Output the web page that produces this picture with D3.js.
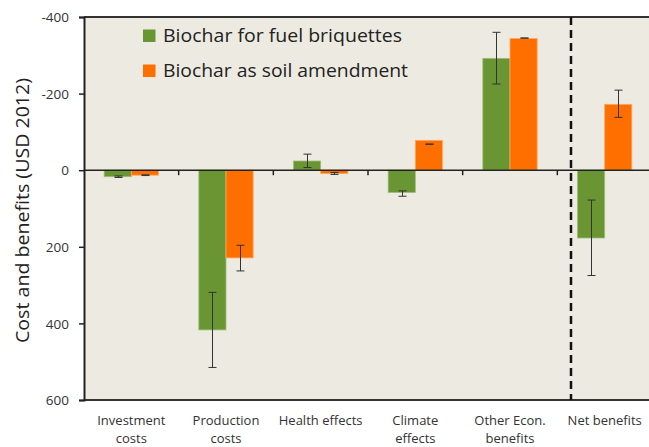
<!DOCTYPE html>
<html><head><meta charset="utf-8">
<script src="https://cdn.jsdelivr.net/npm/d3@7"></script>
<style>html,body{margin:0;padding:0;background:#fff;overflow:hidden}</style>
</head><body><svg id="c" width="649" height="447"></svg>
<script>
const categories = [["Investment","costs"],["Production","costs"],["Health effects"],["Climate","effects"],["Other Econ.","benefits"],["Net benefits"]];
const seriesNames = ["Biochar for fuel briquettes","Biochar as soil amendment"];
const fuelValues = [17, 417, -24, 58, -292, 177];
const fuelErrLow = [15, 319, -42, 54, -360, 78];
const fuelErrHigh = [19, 515, -7, 68, -225, 275];
const soilValues = [13, 229, 9, -78, -344, -172];
const soilErrLow = [12, 196, 6, -68, -345, -209];
const soilErrHigh = [14, 263, 11, -68, -345, -138];
const yTicks = [-400, -200, 0, 200, 400, 600];
const colors = ["#6a9533", "#ff6f00"];

(function(){
const svg = d3.select("#c");
const pL = 84, pT = 17, pB = 400, pR = 652;
const x0 = d3.scaleBand().domain(d3.range(categories.length)).range([pL, pR]).paddingInner(0.426).paddingOuter(0.213);
const x1 = d3.scaleBand().domain([0,1]).range([0, x0.bandwidth()]);
const y = d3.scaleLinear().domain([-400, 600]).range([pT, pB]);

svg.append("rect").attr("x", pL).attr("y", pT).attr("width", pR-pL).attr("height", pB-pT).attr("fill", "#edebe1");

const series = [
  {vals: fuelValues, lo: fuelErrLow, hi: fuelErrHigh},
  {vals: soilValues, lo: soilErrLow, hi: soilErrHigh}
];
series.forEach((s, si) => {
  const g = svg.append("g");
  g.selectAll("rect").data(s.vals).join("rect")
    .attr("x", (d,i) => x0(i) + x1(si))
    .attr("width", x1.bandwidth())
    .attr("y", d => y(Math.min(0,d)))
    .attr("height", d => Math.abs(y(d) - y(0)))
    .attr("fill", colors[si])
    .attr("stroke", si === 0 ? "#9fbb78" : "#ffa860").attr("stroke-width", 0.8);
});
series.forEach((s, si) => {
  const g = svg.append("g").attr("stroke", "#333").attr("stroke-width", 1);
  s.vals.forEach((v, i) => {
    const cx = Math.round(x0(i) + x1(si) + x1.bandwidth()/2) + 0.5;
    const a = y(s.lo[i]), b = y(s.hi[i]);
    g.append("line").attr("x1", cx).attr("x2", cx).attr("y1", a).attr("y2", b);
    [a, b].forEach(yy => g.append("line").attr("x1", cx-4).attr("x2", cx+4).attr("y1", yy).attr("y2", yy));
  });
});

// zero line with category ticks
svg.append("line").attr("x1", pL).attr("x2", pR).attr("y1", y(0)).attr("y2", y(0)).attr("stroke", "#222").attr("stroke-width", 1.5);
const bounds = d3.range(1, categories.length).map(i => x0.step()*i + pL);
svg.append("g").selectAll("line").data(bounds).join("line")
  .attr("x1", d => d).attr("x2", d => d).attr("y1", y(0)).attr("y2", y(0)+5)
  .attr("stroke", "#222").attr("stroke-width", 1.5);

// frame lines
svg.append("line").attr("x1", pL).attr("x2", pR).attr("y1", pT).attr("y2", pT).attr("stroke", "#333").attr("stroke-width", 2);
svg.append("line").attr("x1", pL).attr("x2", pR).attr("y1", pB).attr("y2", pB).attr("stroke", "#333").attr("stroke-width", 2);

// y axis
const yAxis = svg.append("g").attr("transform", `translate(${pL},0)`)
  .call(d3.axisLeft(y).tickValues(yTicks).tickSize(5).tickFormat(d => String(d)));
yAxis.select(".domain").attr("stroke", "#222").attr("stroke-width", 2);
yAxis.selectAll(".tick line").attr("stroke", "#222").attr("stroke-width", 1.5);
yAxis.selectAll("text").attr("font-family", "Open Sans, sans-serif").attr("font-size", 13.5).attr("fill", "#333").attr("x", -15).attr("dy", "0.35em");

svg.append("text").attr("transform", `translate(29,${(78+343)/2}) rotate(-90)`)
  .attr("text-anchor", "middle").attr("font-family", "Open Sans, sans-serif").attr("font-size", 17.5).attr("fill", "#222")
  .attr("textLength", 265).attr("lengthAdjust", "spacingAndGlyphs")
  .text("Cost and benefits (USD 2012)");

// dashed separator
const sepX = x0(5) - 6.5;
svg.append("line").attr("x1", sepX).attr("x2", sepX).attr("y1", pT).attr("y2", pB)
  .attr("stroke", "#111").attr("stroke-width", 2.5).attr("stroke-dasharray", "8,5");

// x labels
const xl = svg.append("g").attr("font-family", "Open Sans, sans-serif").attr("font-size", 13).attr("fill", "#333").attr("text-anchor", "middle");
categories.forEach((lines, i) => {
  lines.forEach((t, j) => {
    xl.append("text").attr("x", x0(i) + x0.bandwidth()/2).attr("y", 425 + j*18).text(t);
  });
});

// legend
const lg = svg.append("g");
seriesNames.forEach((n, i) => {
  lg.append("rect").attr("x", 143).attr("y", 29.5 + i*35).attr("width", 12.5).attr("height", 12.5).attr("fill", colors[i]);
  lg.append("text").attr("x", 163).attr("y", 42 + i*35).attr("font-family", "Open Sans, sans-serif").attr("font-size", 17.5).attr("fill", "#222")
    .attr("textLength", i === 0 ? 239 : 245).attr("lengthAdjust", "spacingAndGlyphs").text(n);
});
})();
</script></body></html>
